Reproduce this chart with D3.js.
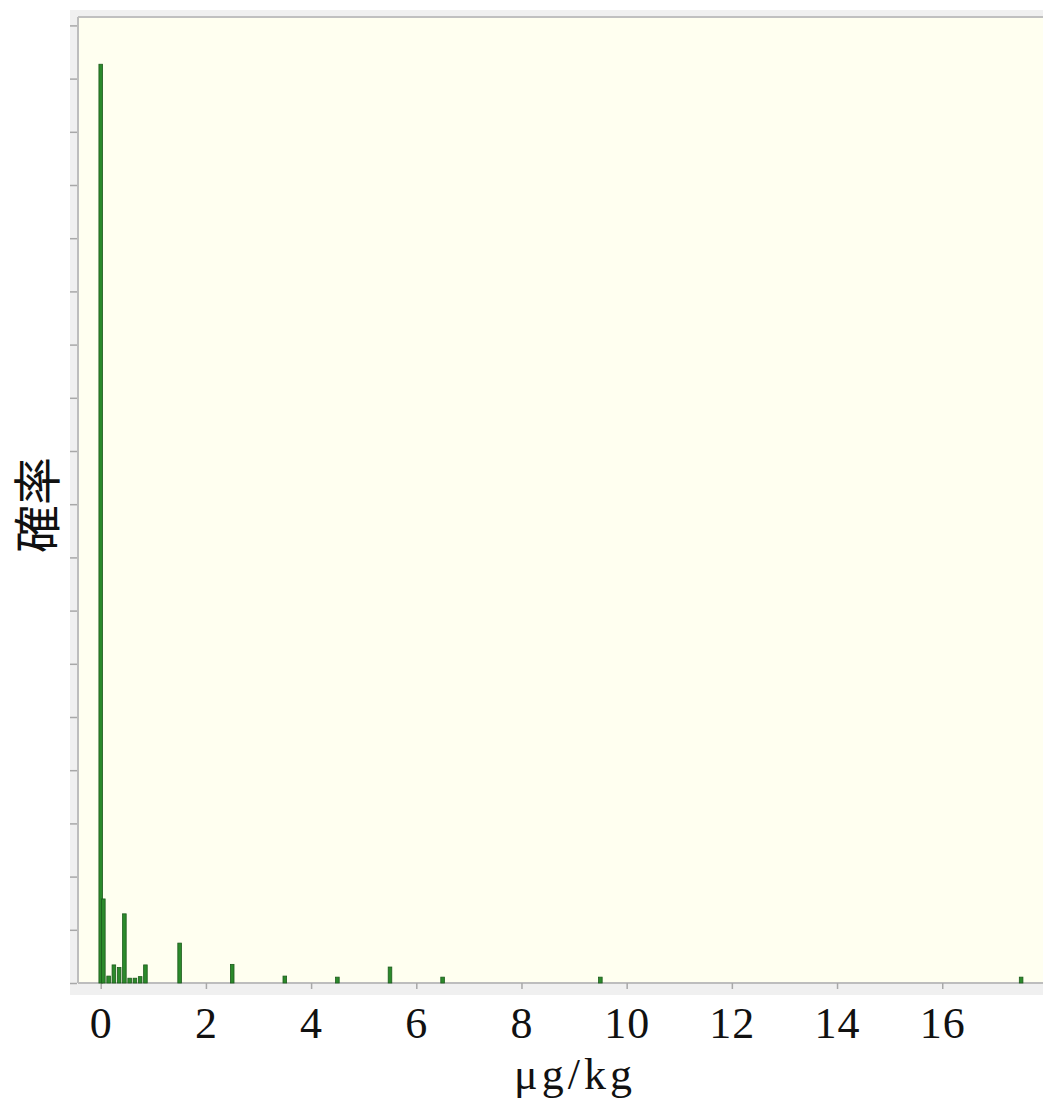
<!DOCTYPE html>
<html>
<head>
<meta charset="utf-8">
<script src="https://cdn.jsdelivr.net/npm/d3@7/dist/d3.min.js"></script>
<style>
html,body{margin:0;padding:0;background:#ffffff;}
svg{display:block;}
</style>
</head>
<body>
<div id="chart"></div>
<script>
// bin centres (µg/kg) and probability of each bar
const binCenters = [0, 0.05, 0.15, 0.25, 0.35, 0.45, 0.55, 0.65, 0.75, 0.85, 1.5, 2.5, 3.5, 4.5, 5.5, 6.5, 9.5, 17.5];
const probabilities = [0.1727, 0.0158, 0.0013, 0.0034, 0.0029, 0.0130, 0.0009, 0.0009, 0.0012, 0.0034, 0.0075, 0.0035, 0.0013, 0.0011, 0.0030, 0.0011, 0.0011, 0.0011];
const xTickValues = [0, 2, 4, 6, 8, 10, 12, 14, 16];
const yTickValues = d3.range(0, 0.1805, 0.01);
const xAxisTitle = "μg/kg";
const yAxisTitle = "確率";

const W = 1043, H = 1101;
const svg = d3.select("#chart").append("svg").attr("width", W).attr("height", H);

const plot = {left: 78, top: 17, right: 1043, bottom: 983};

const x = d3.scaleLinear().domain([-0.432, 17.916]).range([plot.left, plot.right]);
const y = d3.scaleLinear().domain([0, 0.18158]).range([plot.bottom, plot.top]);

// outer grey panel
svg.append("rect").attr("x", 70).attr("y", 10).attr("width", W - 70).attr("height", 985).attr("fill", "#f0f0f0");
// plot area
svg.append("rect").attr("x", plot.left).attr("y", plot.top)
  .attr("width", plot.right - plot.left + 5).attr("height", plot.bottom - plot.top)
  .attr("fill", "#fffff0");

// frame lines
svg.append("line").attr("x1", plot.left).attr("x2", W).attr("y1", plot.top).attr("y2", plot.top)
  .attr("stroke", "#c0c0c0").attr("stroke-width", 2);
svg.append("line").attr("x1", plot.left).attr("x2", plot.left).attr("y1", plot.top).attr("y2", plot.bottom)
  .attr("stroke", "#bdbdbd").attr("stroke-width", 2);
svg.append("line").attr("x1", plot.left).attr("x2", W).attr("y1", plot.bottom).attr("y2", plot.bottom)
  .attr("stroke", "#bdbdbd").attr("stroke-width", 2);

// y axis ticks (no labels)
const yAxis = d3.axisLeft(y).tickValues(yTickValues).tickSize(7).tickFormat("");
const gy = svg.append("g").attr("transform", `translate(${plot.left - 1},0)`).call(yAxis);
gy.select(".domain").remove();
gy.selectAll(".tick line").attr("stroke", "#a8a8a8").attr("stroke-width", 1.5);

// x axis
const xAxis = d3.axisBottom(x).tickValues(xTickValues).tickSize(6).tickPadding(20).tickFormat(d3.format("d"));
const gx = svg.append("g").attr("transform", `translate(0,${plot.bottom})`).call(xAxis);
gx.select(".domain").remove();
gx.selectAll(".tick line").attr("stroke", "#a8a8a8").attr("stroke-width", 1.5);
gx.selectAll(".tick text")
  .attr("font-family", "'Liberation Serif', 'DejaVu Serif', serif")
  .attr("font-size", 44).attr("fill", "#111").attr("dy", "0.66em")
  .attr("letter-spacing", 1);

// bars
svg.append("g").selectAll("rect").data(binCenters).join("rect")
  .attr("x", (d) => x(d) - 1.8)
  .attr("width", 3.6)
  .attr("y", (d, i) => y(probabilities[i]))
  .attr("height", (d, i) => y(0) - y(probabilities[i]))
  .attr("fill", "#2b8a2b")
  .attr("stroke", "#1c5a1c")
  .attr("stroke-width", 0.8);

// axis titles
svg.append("text").attr("x", 575).attr("y", 1089).attr("text-anchor", "middle")
  .attr("font-family", "'Liberation Serif', 'DejaVu Serif', serif")
  .attr("font-size", 44).attr("letter-spacing", 4).attr("fill", "#111").text(xAxisTitle);

svg.append("text").attr("transform", "translate(55,505) rotate(-90)")
  .attr("text-anchor", "middle")
  .attr("font-family", "'Noto Sans CJK JP', sans-serif")
  .attr("font-size", 48).attr("fill", "#111").text(yAxisTitle);
</script>
</body>
</html>
